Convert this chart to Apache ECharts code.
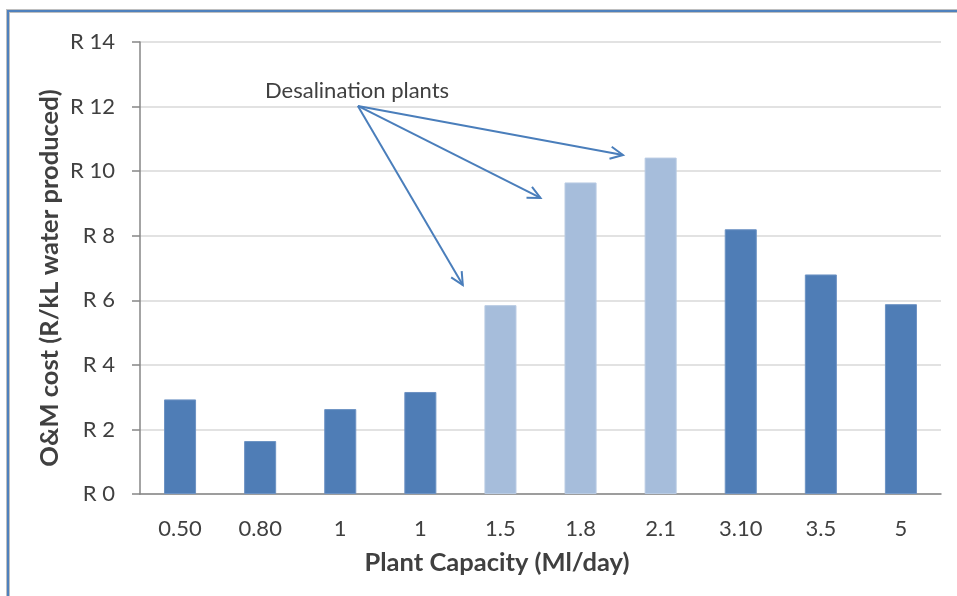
<!DOCTYPE html>
<html lang="en">
<head>
    <meta charset="UTF-8">
    <title>O&amp;M cost by plant capacity</title>
    <script src="https://cdn.jsdelivr.net/npm/echarts@6.0.0/dist/echarts.min.js"></script>
    <style>
        * { margin: 0; padding: 0; }
        body { background: #ffffff; }
        #chart { width: 957px; height: 596px; }
    </style>
</head>
<body>
    <div id="chart"></div>
    <script>
        // data
        var capacities = ['0.50', '0.80', '1', '1', '1.5', '1.8', '2.1', '3.10', '3.5', '5'];
        var omCost = [2.93, 1.64, 2.63, 3.16, 5.85, 9.65, 10.42, 8.20, 6.80, 5.88];
        var isDesal = [false, false, false, false, true, true, true, false, false, false];
        var yTicks = [0, 2, 4, 6, 8, 10, 12, 14];

        // annotation: start point and arrow tips, as [category index + offset, value]
        var noteStart = [2.22, 12.02];
        var noteTips = [[3.53, 6.47], [4.50, 9.17], [5.53, 10.50]];

        var darkBlue = '#4f7db6';
        var lightBlue = '#a6bddb';
        var arrowBlue = '#4a7ebb';
        var font = 'Lato, "Open Sans", sans-serif';

        var chart = echarts.init(document.getElementById('chart'));

        var option = {
            animation: false,
            grid: { left: 140, right: 16, top: 42, bottom: 102 },
            xAxis: {
                type: 'category',
                data: capacities,
                axisLine: { lineStyle: { color: '#868686', width: 1.5 } },
                axisTick: { length: 7, lineStyle: { color: '#868686', width: 1.5 } },
                axisLabel: { color: '#404040', fontSize: 22, fontFamily: font, margin: 24 }
            },
            yAxis: {
                type: 'value',
                min: yTicks[0],
                max: yTicks[yTicks.length - 1],
                interval: 2,
                axisLine: { show: true, lineStyle: { color: '#868686', width: 1.5 } },
                axisTick: { show: true, length: 8, lineStyle: { color: '#868686', width: 1.5 } },
                splitLine: { lineStyle: { color: '#d9d9d9', width: 1.5 } },
                axisLabel: {
                    color: '#404040', fontSize: 22, fontFamily: font, margin: 25,
                    formatter: function (v) { return 'R ' + v; }
                }
            },
            series: [{
                type: 'bar',
                barWidth: '40%',
                data: omCost.map(function (v, i) {
                    return {
                        value: v,
                        itemStyle: {
                            color: isDesal[i] ? lightBlue : darkBlue,
                            borderColor: isDesal[i] ? '#b9cbe3' : '#6d93c4',
                            borderWidth: 1
                        }
                    };
                })
            }]
        };

        chart.setOption(option);

        // turn annotation data positions into pixels
        var band = chart.convertToPixel({ xAxisIndex: 0 }, 1) - chart.convertToPixel({ xAxisIndex: 0 }, 0);
        function toPx(p) {
            var i = Math.floor(p[0]);
            var x = chart.convertToPixel({ xAxisIndex: 0 }, i) + (p[0] - i) * band;
            var y = chart.convertToPixel({ yAxisIndex: 0 }, p[1]);
            return [x, y];
        }

        var start = toPx(noteStart);
        var graphics = [
            {
                type: 'rect',
                shape: { x: 8, y: 11, width: 980, height: 620 },
                style: { fill: 'none', stroke: '#bfbfbf', lineWidth: 4 }
            },
            {
                type: 'rect',
                shape: { x: 8, y: 11, width: 980, height: 620 },
                style: { fill: 'none', stroke: '#4f81bd', lineWidth: 2 }
            },
            {
                type: 'text',
                x: 265, y: 91,
                style: { text: 'Desalination plants', fill: '#404040', fontSize: 22, fontFamily: font, verticalAlign: 'middle' }
            },
            {
                type: 'text',
                x: 497, y: 563,
                style: {
                    text: 'Plant Capacity (Ml/day)', fill: '#404040', fontSize: 25.5, fontWeight: 'bold',
                    fontFamily: font, align: 'center', verticalAlign: 'middle'
                }
            },
            {
                type: 'text',
                x: 50, y: 278,
                rotation: Math.PI / 2,
                style: {
                    text: 'O&M cost (R/kL water produced)', fill: '#404040', fontSize: 25.5,
                    fontWeight: 'bold', fontFamily: font, align: 'center', verticalAlign: 'middle'
                }
            }
        ];

        noteTips.forEach(function (t) {
            var end = toPx(t);
            var dx = end[0] - start[0], dy = end[1] - start[1];
            var len = Math.sqrt(dx * dx + dy * dy);
            var ux = dx / len, uy = dy / len;
            var head = 14, spread = 0.45;
            var cos = Math.cos(spread), sin = Math.sin(spread);
            var a1 = [end[0] - head * (ux * cos - uy * sin), end[1] - head * (uy * cos + ux * sin)];
            var a2 = [end[0] - head * (ux * cos + uy * sin), end[1] - head * (uy * cos - ux * sin)];
            graphics.push({
                type: 'line',
                shape: { x1: start[0], y1: start[1], x2: end[0], y2: end[1] },
                style: { stroke: arrowBlue, lineWidth: 2 }
            });
            graphics.push({
                type: 'polyline',
                shape: { points: [a1, end, a2] },
                style: { stroke: arrowBlue, lineWidth: 2, fill: 'none' }
            });
        });

        chart.setOption({ graphic: graphics });
    </script>
</body>
</html>
